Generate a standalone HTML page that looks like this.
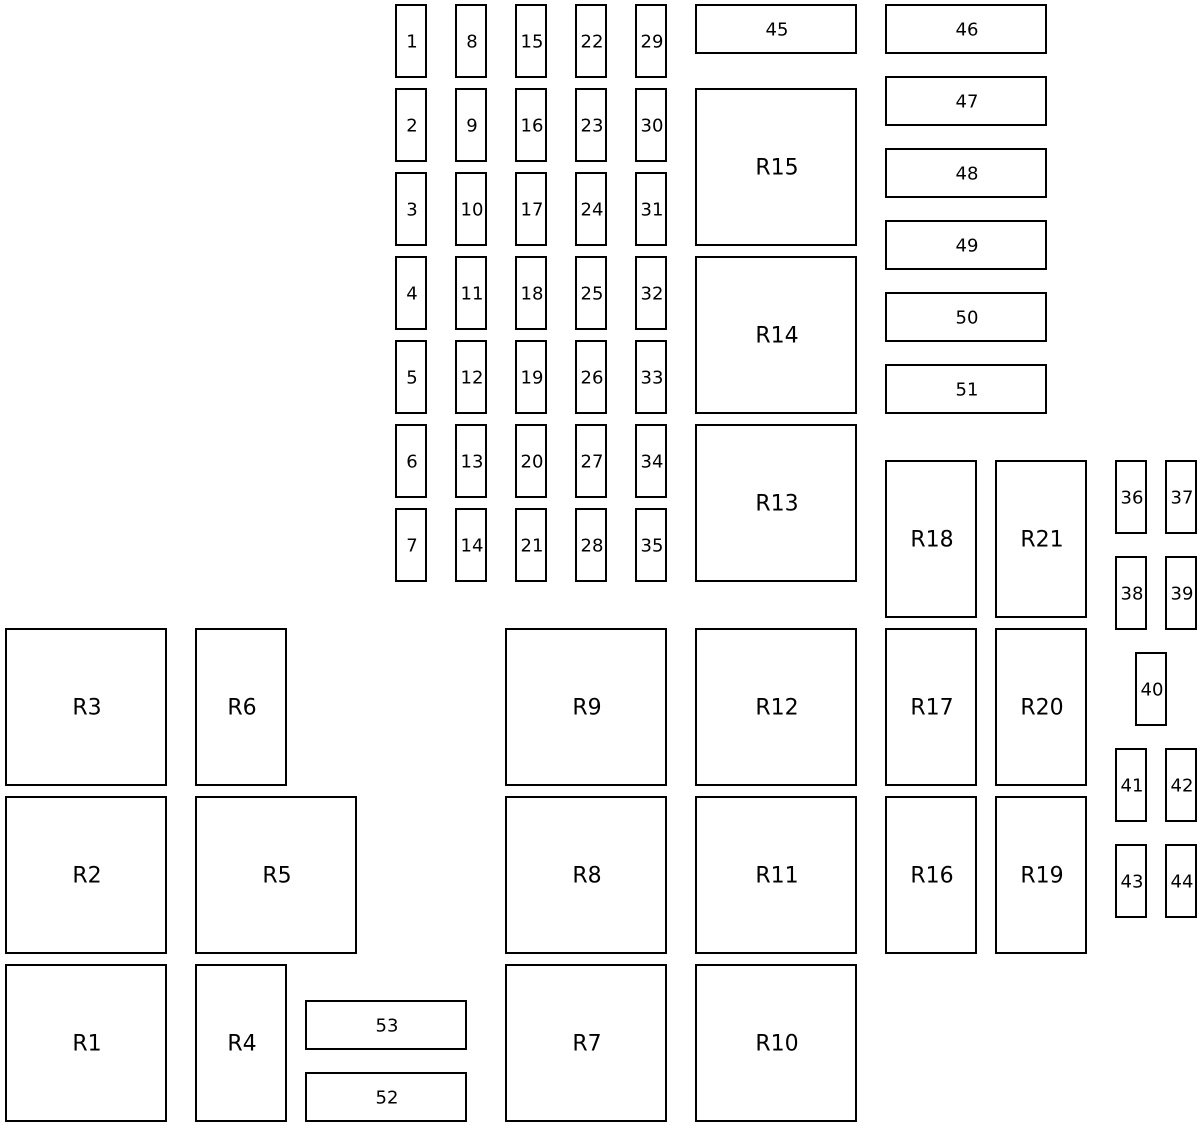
<!DOCTYPE html>
<html><head><meta charset="utf-8"><style>html,body{margin:0;padding:0;background:#fff}</style></head>
<body>
<svg width="1202" height="1126" xmlns="http://www.w3.org/2000/svg" font-family="'DejaVu Sans','Liberation Sans',sans-serif">
<g id="g" fill="#fff" stroke="#000" stroke-width="2"></g>
<g id="t" fill="#000" text-anchor="middle" dominant-baseline="central"></g>
</svg>
<script>
var g=document.getElementById('g'),t=document.getElementById('t'),ns='http://www.w3.org/2000/svg';
function b(x,y,w,h,l,fs){var r=document.createElementNS(ns,'rect');r.setAttribute('x',x);r.setAttribute('y',y);r.setAttribute('width',w);r.setAttribute('height',h);g.appendChild(r);
var e=document.createElementNS(ns,'text');e.setAttribute('x',x+w/2+1);e.setAttribute('y',y+h/2+1);e.setAttribute('font-size',fs);e.textContent=l;t.appendChild(e);}
var S=18,L=22;
var cols=[396,456,516,576,636],rows=[5,89,173,257,341,425,509];
for(var c=0;c<5;c++)for(var r=0;r<7;r++){var n=[1,8,15,22,29][c]+r;b(cols[c],rows[r],30,72,n,S);}
b(696,5,160,48,'45',S);
[['46',5],['47',77],['48',149],['49',221],['50',293],['51',365]].forEach(function(a){b(886,a[1],160,48,a[0],S)});
b(696,89,160,156,'R15',L);b(696,257,160,156,'R14',L);b(696,425,160,156,'R13',L);
b(886,461,90,156,'R18',L);b(996,461,90,156,'R21',L);
b(1116,461,30,72,'36',S);b(1166,461,30,72,'37',S);
b(1116,557,30,72,'38',S);b(1166,557,30,72,'39',S);
b(1136,653,30,72,'40',S);
b(1116,749,30,72,'41',S);b(1166,749,30,72,'42',S);
b(1116,845,30,72,'43',S);b(1166,845,30,72,'44',S);
b(6,629,160,156,'R3',L);b(196,629,90,156,'R6',L);b(506,629,160,156,'R9',L);b(696,629,160,156,'R12',L);b(886,629,90,156,'R17',L);b(996,629,90,156,'R20',L);
b(6,797,160,156,'R2',L);b(196,797,160,156,'R5',L);b(506,797,160,156,'R8',L);b(696,797,160,156,'R11',L);b(886,797,90,156,'R16',L);b(996,797,90,156,'R19',L);
b(6,965,160,156,'R1',L);b(196,965,90,156,'R4',L);b(306,1001,160,48,'53',S);b(306,1073,160,48,'52',S);b(506,965,160,156,'R7',L);b(696,965,160,156,'R10',L);
</script>
</body></html>
